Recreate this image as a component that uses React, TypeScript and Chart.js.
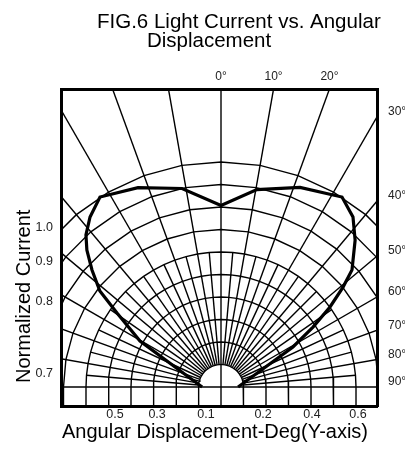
import React, { useEffect, useRef } from "react";
import { Chart, registerables } from "chart.js";

Chart.register(...registerables);

// ---------- data ----------
const titleLines = ["FIG.6 Light Current vs. Angular", "Displacement"];
const xTitle = "Angular Displacement-Deg(Y-axis)";
const yTitle = "Normalized Current";

// polar grid (radii in ring units, angles in degrees from the vertical)
const ringRadii = [1, 2, 3, 4, 5, 6, 7, 8, 9, 10];
const majorSpokeAngles = [-80, -70, -60, -50, -40, -30, -20, -10, 10, 20, 30, 40, 50, 60, 70, 80];
const minorSpokeAngles = [-85, -75, -65, -55, -45, -35, -25, -15, -5, 5, 15, 25, 35, 45, 55, 65, 75, 85];
const minorSpokeOuterRadius = 6;

// measured curve: angle (deg) and radius (ring units)
const heartAngles = [-90, -60.4, -54.6, -51.6, -47.8, -44.4, -41.6, -37.6, -32.5, -22.6, -11.1, 0, 10.3, 21.6, 32.5, 37.8, 42.4, 48.2, 50.7, 53.7, 56.9, 60.9, 90];
const heartRadii = [0.84, 4.14, 5.67, 6.87, 7.74, 8.52, 9.04, 9.54, 10.01, 9.6, 8.99, 8.07, 8.92, 9.54, 10.01, 9.57, 8.84, 7.81, 7.01, 6.01, 4.88, 3.66, 0.76];

// tick labels
const leftTickValues = [7.07, 5.56, 3.78, 0.62];
const leftTickLabels = ["1.0", "0.9", "0.8", "0.7"];
const bottomTickValues = [-4.71, -2.84, -0.67, 1.87, 4.04, 6.09];
const bottomTickLabels = ["0.5", "0.3", "0.1", "0.2", "0.4", "0.6"];
const topTickAngles = [0, 10, 20];
const rightTickAngles = [30, 40, 50, 60, 70, 80, 90];

// axis ranges (ring units)
const X_MIN = -7.111;
const X_MAX = 6.933;
const Y_MIN = -0.844;
const Y_MAX = 13.244;

const DEG = Math.PI / 180;
const polar = (a: number, r: number) => ({ x: r * Math.sin(a * DEG), y: r * Math.cos(a * DEG) });

const FONT = '"Liberation Sans", Arial, Helvetica, sans-serif';

function lineDataset(data: { x: number; y: number }[], width: number) {
  return {
    type: "scatter" as const,
    data,
    showLine: true,
    borderColor: "#000",
    backgroundColor: "#000",
    borderWidth: width,
    pointRadius: 0,
    pointHoverRadius: 0,
    fill: false,
    tension: 0,
    clip: 0,
    xAxisID: "x",
    yAxisID: "y",
  };
}

function buildDatasets() {
  const ds: any[] = [];
  // rings
  ringRadii.forEach((k) => {
    const step = k <= minorSpokeOuterRadius ? 5 : 10;
    const pts: { x: number; y: number }[] = [{ x: -k, y: Y_MIN }];
    for (let a = -90; a <= 90; a += step) pts.push(polar(a, k));
    pts.push({ x: k, y: Y_MIN });
    ds.push(lineDataset(pts, 1.4));
  });
  // spokes
  majorSpokeAngles.forEach((a) => ds.push(lineDataset([polar(a, ringRadii[0]), polar(a, 25)], 1.4)));
  minorSpokeAngles.forEach((a) =>
    ds.push(lineDataset([polar(a, ringRadii[0]), polar(a, minorSpokeOuterRadius)], 1.4))
  );
  // vertical and horizontal axes lines
  ds.push(lineDataset([{ x: 0, y: Y_MIN }, { x: 0, y: Y_MAX + 1 }], 1.4));
  ds.push(lineDataset([{ x: X_MIN - 1, y: 0 }, { x: X_MAX + 1, y: 0 }], 1.4));
  // curve
  ds.push(lineDataset(heartAngles.map((a, i) => polar(a, heartRadii[i])), 3.2));
  return ds;
}

const textPlugin = {
  id: "figTexts",
  afterDraw(chart: any) {
    const { ctx, chartArea } = chart;
    ctx.save();
    ctx.fillStyle = "#000";
    ctx.font = `20.5px ${FONT}`;
    ctx.textAlign = "left";
    ctx.textBaseline = "alphabetic";
    ctx.fillText(titleLines[0], 97, 28);
    ctx.fillText(titleLines[1], 147, 47);
    ctx.font = `20px ${FONT}`;
    ctx.textAlign = "center";
    ctx.fillText(xTitle, (chartArea.left + chartArea.right) / 2 - 4, 438);
    ctx.translate(30, 383);
    ctx.rotate(-Math.PI / 2);
    ctx.textAlign = "left";
    ctx.fillText(yTitle, 0, 0);
    ctx.restore();
  },
};

export default function App() {
  const ref = useRef<HTMLCanvasElement | null>(null);
  useEffect(() => {
    if (!ref.current) return;
    Chart.defaults.font.family = FONT;
    const common = {
      type: "linear" as const,
      grid: { display: false, drawTicks: false },
      border: { display: true, width: 3, color: "#000" },
    };
    const chart = new Chart(ref.current, {
      type: "scatter",
      data: { datasets: buildDatasets() },
      options: {
        animation: false,
        responsive: true,
        maintainAspectRatio: false,
        events: [],
        layout: { padding: 0 },
        plugins: {
          legend: { display: false },
          title: { display: false },
          tooltip: { enabled: false },
        },
        scales: {
          x: {
            ...common,
            position: "bottom",
            min: X_MIN,
            max: X_MAX,
            ticks: {
              padding: 1,
              autoSkip: false,
              maxRotation: 0,
              color: "#222",
              font: { size: 12.5 },
              callback: (_v: any, i: number) => bottomTickLabels[i] ?? "",
            },
            afterBuildTicks: (s: any) => {
              s.ticks = bottomTickValues.map((v) => ({ value: v }));
            },
            afterFit: (s: any) => {
              s.height = 48;
            },
          },
          xTop: {
            ...common,
            position: "top",
            min: X_MIN,
            max: X_MAX,
            ticks: {
              padding: 5,
              autoSkip: false,
              maxRotation: 0,
              color: "#222",
              font: { size: 12 },
              callback: (_v: any, i: number) => `${topTickAngles[i]}°`,
            },
            afterBuildTicks: (s: any) => {
              s.ticks = topTickAngles.map((a) => ({ value: Y_MAX * Math.tan(a * DEG) }));
            },
            afterFit: (s: any) => {
              s.height = 89;
            },
          },
          y: {
            ...common,
            position: "left",
            min: Y_MIN,
            max: Y_MAX,
            ticks: {
              padding: 8,
              autoSkip: false,
              color: "#222",
              font: { size: 12.5 },
              callback: (_v: any, i: number) => leftTickLabels[i] ?? "",
            },
            afterBuildTicks: (s: any) => {
              s.ticks = leftTickValues.map((v) => ({ value: v }));
            },
            afterFit: (s: any) => {
              s.width = 61;
            },
          },
          yRight: {
            ...common,
            position: "right",
            min: Y_MIN,
            max: Y_MAX,
            ticks: {
              padding: 11,
              labelOffset: -5,
              autoSkip: false,
              color: "#222",
              font: { size: 12 },
              callback: (_v: any, i: number) => `${rightTickAngles[i]}°`,
            },
            afterBuildTicks: (s: any) => {
              s.ticks = rightTickAngles.map((a) => ({ value: X_MAX / Math.tan(a * DEG) }));
            },
            afterFit: (s: any) => {
              s.width = 28;
            },
          },
        },
      } as any,
      plugins: [textPlugin],
    });
    return () => chart.destroy();
  }, []);
  return (
    <div style={{ position: "absolute", left: 0, top: 0, width: 405, height: 454, background: "#fff" }}>
      <canvas ref={ref} />
    </div>
  );
}
